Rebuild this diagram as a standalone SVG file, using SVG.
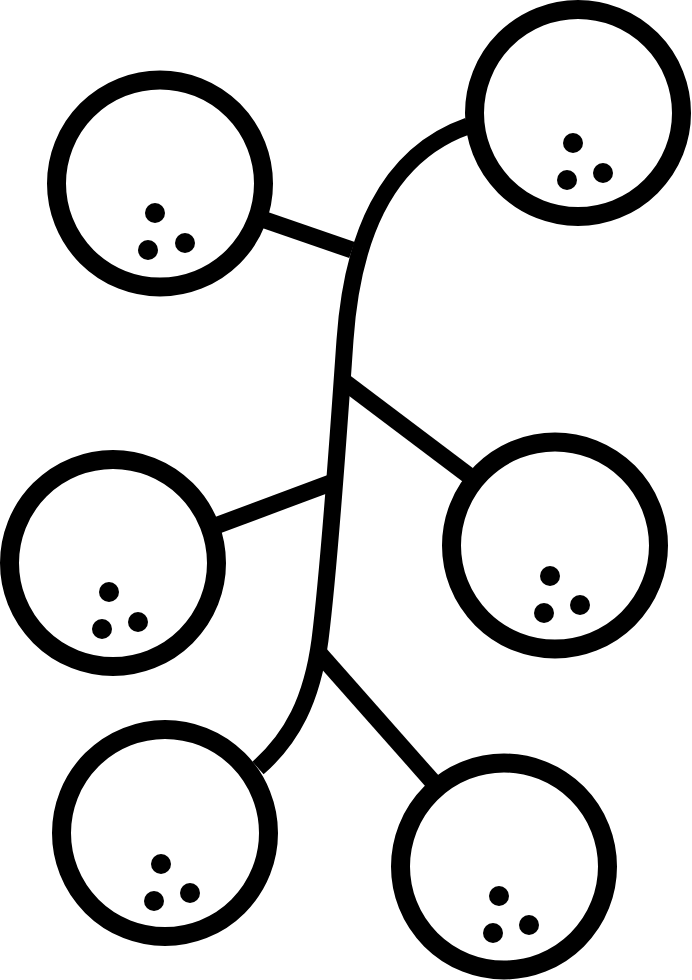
<svg xmlns="http://www.w3.org/2000/svg" width="692" height="980" viewBox="0 0 692 980">
<style>
.ring{fill:none;stroke:#000;stroke-width:19}
.dot{fill:#000}
.link{fill:none;stroke:#000;stroke-width:17;stroke-linecap:butt}
</style>
<rect width="692" height="980" fill="#fff"/>
<g id="connectors">
<path class="link" d="M 468,126 C 385,155 352,240 345,340 C 338,440 330,560 320,640 C 312,700 292,738 258,768"/>
<line class="link" x1="265" y1="220" x2="352" y2="250"/>
<line class="link" x1="342" y1="380" x2="468" y2="475"/>
<line class="link" x1="336" y1="481" x2="218" y2="525"/>
<line class="link" x1="318" y1="652" x2="433" y2="782"/>
</g>
<g id="node1">
<circle class="ring" cx="160" cy="183.5" r="103.5"/>
<circle class="dot" cx="155" cy="213" r="10"/><circle class="dot" cx="148" cy="250" r="10"/><circle class="dot" cx="185" cy="243" r="10"/>
</g>
<g id="node2">
<circle class="ring" cx="578" cy="113" r="103.5"/>
<circle class="dot" cx="573" cy="143" r="10"/><circle class="dot" cx="567" cy="180" r="10"/><circle class="dot" cx="603" cy="173" r="10"/>
</g>
<g id="node3">
<circle class="ring" cx="113" cy="563" r="103.5"/>
<circle class="dot" cx="109" cy="592" r="10"/><circle class="dot" cx="102" cy="629" r="10"/><circle class="dot" cx="138" cy="622" r="10"/>
</g>
<g id="node4">
<circle class="ring" cx="555" cy="545.5" r="103.5"/>
<circle class="dot" cx="550" cy="576" r="10"/><circle class="dot" cx="544" cy="613" r="10"/><circle class="dot" cx="580" cy="605" r="10"/>
</g>
<g id="node5">
<circle class="ring" cx="165" cy="833" r="103.5"/>
<circle class="dot" cx="161" cy="864" r="10"/><circle class="dot" cx="154" cy="901" r="10"/><circle class="dot" cx="190" cy="893" r="10"/>
</g>
<g id="node6">
<circle class="ring" cx="504" cy="866.5" r="103.5"/>
<circle class="dot" cx="499" cy="896" r="10"/><circle class="dot" cx="493" cy="933" r="10"/><circle class="dot" cx="529" cy="925" r="10"/>
</g>
</svg>
